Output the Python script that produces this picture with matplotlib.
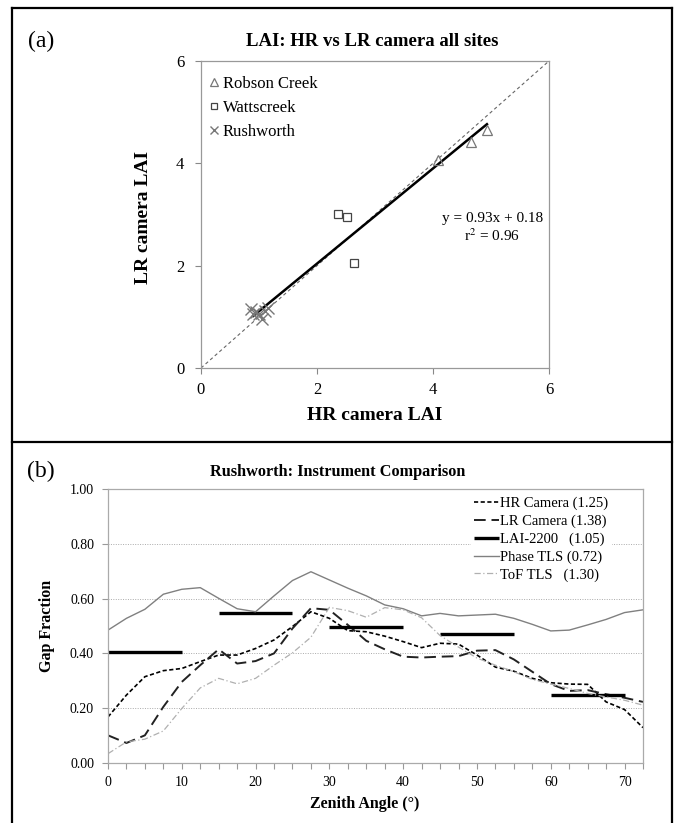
import numpy as np
import matplotlib
matplotlib.use("Agg")
import matplotlib.pyplot as plt
from matplotlib.lines import Line2D

plt.rcParams["font.family"] = ["Liberation Serif", "DejaVu Serif"]
plt.rcParams["mathtext.fontset"] = "stix"

# ---- panel (a): HR vs LR camera LAI ----
robson_hr = [4.08, 4.65, 4.93]
robson_lr = [4.07, 4.42, 4.65]
watts_hr = [2.36, 2.51, 2.63]
watts_lr = [3.00, 2.95, 2.06]
rush_hr = [0.87, 0.90, 0.95, 1.00, 1.05, 1.10, 1.15]
rush_lr = [1.15, 1.05, 1.10, 1.06, 0.96, 1.12, 1.18]
fit_x = [0.9, 4.93]
fit_slope = 0.93
fit_icpt = 0.18
one_to_one = [0, 6]

# ---- panel (b): gap fraction vs zenith angle ----
zenith = [0, 2.5, 5, 7.5, 10, 12.5, 15, 17.5, 20, 22.5, 25, 27.5, 30, 32.5, 35,
          37.5, 40, 42.5, 45, 47.5, 50, 52.5, 55, 57.5, 60, 62.5, 65, 67.5, 70, 72.5]
hr_cam = [0.168, 0.248, 0.315, 0.337, 0.345, 0.370, 0.394, 0.394, 0.418, 0.449,
          0.498, 0.552, 0.528, 0.483, 0.479, 0.463, 0.443, 0.421, 0.437, 0.434,
          0.394, 0.350, 0.335, 0.309, 0.293, 0.288, 0.287, 0.223, 0.195, 0.129]
lr_cam = [0.101, 0.073, 0.101, 0.205, 0.296, 0.357, 0.415, 0.363, 0.372, 0.400,
          0.491, 0.565, 0.559, 0.504, 0.446, 0.415, 0.388, 0.385, 0.388, 0.390,
          0.410, 0.412, 0.378, 0.333, 0.288, 0.263, 0.266, 0.251, 0.238, 0.223]
phase_tls = [0.485, 0.528, 0.561, 0.616, 0.634, 0.640, 0.601, 0.563, 0.552, 0.610,
             0.666, 0.698, 0.668, 0.638, 0.610, 0.577, 0.563, 0.537, 0.546, 0.537,
             0.540, 0.543, 0.528, 0.506, 0.482, 0.485, 0.504, 0.524, 0.549, 0.559]
tof_tls = [0.034, 0.077, 0.087, 0.117, 0.199, 0.274, 0.309, 0.289, 0.309, 0.357,
           0.402, 0.459, 0.568, 0.556, 0.532, 0.567, 0.559, 0.530, 0.465, 0.423,
           0.383, 0.357, 0.333, 0.305, 0.288, 0.272, 0.254, 0.241, 0.229, 0.211]
lai_start = [0, 15, 30, 45, 60]
lai_end = [10, 25, 40, 55, 70]
lai_gf = [0.405, 0.549, 0.498, 0.471, 0.250]

W, H = 675, 823
fig = plt.figure(figsize=(W / 100, H / 100), dpi=100)

def fx(px):
    return px / W

def fy(py):
    return 1 - py / H

# outer boxes
for (x0, y0, x1, y1) in [(12, 8, 672, 8), (12, 442, 672, 442), (12, 8, 12, 823), (672, 8, 672, 823)]:
    fig.add_artist(Line2D([fx(x0), fx(x1)], [fy(y0), fy(y1)], color="black", lw=1.6,
                          transform=fig.transFigure))

# panel (a)
ax = fig.add_axes([fx(201), fy(368), fx(549) - fx(201), fy(61) - fy(368)])
ax.plot(one_to_one, one_to_one, color="#666666", lw=0.8, ls=(0, (3, 2.5)))
fx_line = np.array(fit_x)
ax.plot(fx_line, fit_slope * fx_line + fit_icpt, color="black", lw=1.8)
ax.plot(robson_hr, robson_lr, ls="none", marker="^", ms=7, mfc="none", mec="#777777",
        mew=0.9, label="Robson Creek")
ax.plot(watts_hr, watts_lr, ls="none", marker="s", ms=6, mfc="none", mec="#444444",
        mew=0.9, label="Wattscreek")
ax.plot(rush_hr, rush_lr, ls="none", marker="x", ms=8, mec="#777777", mew=1.0,
        label="Rushworth")
ax.set_xlim(0, 6)
ax.set_ylim(0, 6)
ax.set_xticks([0, 2, 4, 6])
ax.set_yticks([0, 2, 4, 6])
ax.tick_params(direction="out", length=4, width=0.8, color="#888888", labelsize=12)
ax.tick_params(axis="x", pad=6)
ax.tick_params(axis="y", pad=8)
for s in ax.spines.values():
    s.set_color("#999999")
    s.set_linewidth(0.9)
leg = ax.legend(loc="upper left", bbox_to_anchor=(-0.01, 0.99), frameon=False, fontsize=12,
                handlelength=0.6, handletextpad=0.2, labelspacing=0.48, borderaxespad=0.3,
                markerscale=0.75)
ax.text(5.02, 2.93, "y = 0.93x + 0.18", ha="center", va="center", fontsize=11)
ax.text(5.02, 2.58, "r$^2$ = 0.96", ha="center", va="center", fontsize=11)

fig.text(fx(372), fy(42), "LAI: HR vs LR camera all sites", ha="center", va="center",
         fontsize=13.5, fontweight="bold")
fig.text(fx(375), fy(415), "HR camera LAI", ha="center", va="center", fontsize=14,
         fontweight="bold")
fig.text(fx(143), fy(217), "LR camera LAI", ha="center", va="center", fontsize=14,
         fontweight="bold", rotation=90)
fig.text(fx(41), fy(41), "(a)", ha="center", va="center", fontsize=17)

# panel (b)
bx = fig.add_axes([fx(108), fy(763), fx(643) - fx(108), fy(489) - fy(763)])
for g in [0.2, 0.4, 0.6, 0.8]:
    bx.axhline(g, color="#aaaaaa", lw=0.7, ls=(0, (1, 1.5)), zorder=0)
bx.plot(zenith, hr_cam, color="black", lw=1.2, ls=(0, (2.5, 1.5)), label="HR Camera (1.25)")
bx.plot(zenith, lr_cam, color="#222222", lw=1.4, ls=(0, (6, 3)), label="LR Camera (1.38)")
for i in range(len(lai_gf)):
    bx.plot([lai_start[i], lai_end[i]], [lai_gf[i], lai_gf[i]], color="black", lw=2.4,
            solid_capstyle="butt", label="LAI-2200   (1.05)" if i == 0 else None)
bx.plot(zenith, phase_tls, color="#808080", lw=1.0, label="Phase TLS (0.72)")
bx.plot(zenith, tof_tls, color="#b0b0b0", lw=0.9, ls=(0, (5, 2, 1, 2)), label="ToF TLS   (1.30)")
bx.set_xlim(0, 72.5)
bx.set_ylim(0, 1)
bx.set_xticks([0, 10, 20, 30, 40, 50, 60, 70])
bx.set_xticks(zenith, minor=True)
bx.set_yticks([0, 0.2, 0.4, 0.6, 0.8, 1.0])
bx.set_yticklabels(["0.00", "0.20", "0.40", "0.60", "0.80", "1.00"])
bx.tick_params(which="both", direction="out", length=4, width=0.8, color="#999999",
               labelsize=10)
bx.tick_params(axis="x", pad=5)
bx.tick_params(axis="y", pad=6)
for s in bx.spines.values():
    s.set_color("#aaaaaa")
    s.set_linewidth(0.9)
bleg = bx.legend(loc="upper left", bbox_to_anchor=(0.675, 0.99), frameon=True, fontsize=10.5,
                 handlelength=1.7, handletextpad=0.1, labelspacing=0.3, borderaxespad=0.1,
                 borderpad=0.25, fancybox=False)
bleg.get_frame().set_facecolor("white")
bleg.get_frame().set_edgecolor("none")
bleg.get_frame().set_alpha(1)

fig.text(fx(338), fy(472), "Rushworth: Instrument Comparison", ha="center", va="center",
         fontsize=11.7, fontweight="bold")
fig.text(fx(365), fy(804), "Zenith Angle (°)", ha="center", va="center", fontsize=11.5,
         fontweight="bold")
fig.text(fx(47), fy(626), "Gap Fraction", ha="center", va="center", fontsize=11.5,
         fontweight="bold", rotation=90)
fig.text(fx(41), fy(471), "(b)", ha="center", va="center", fontsize=17)

fig.savefig("out.png", dpi=100)
